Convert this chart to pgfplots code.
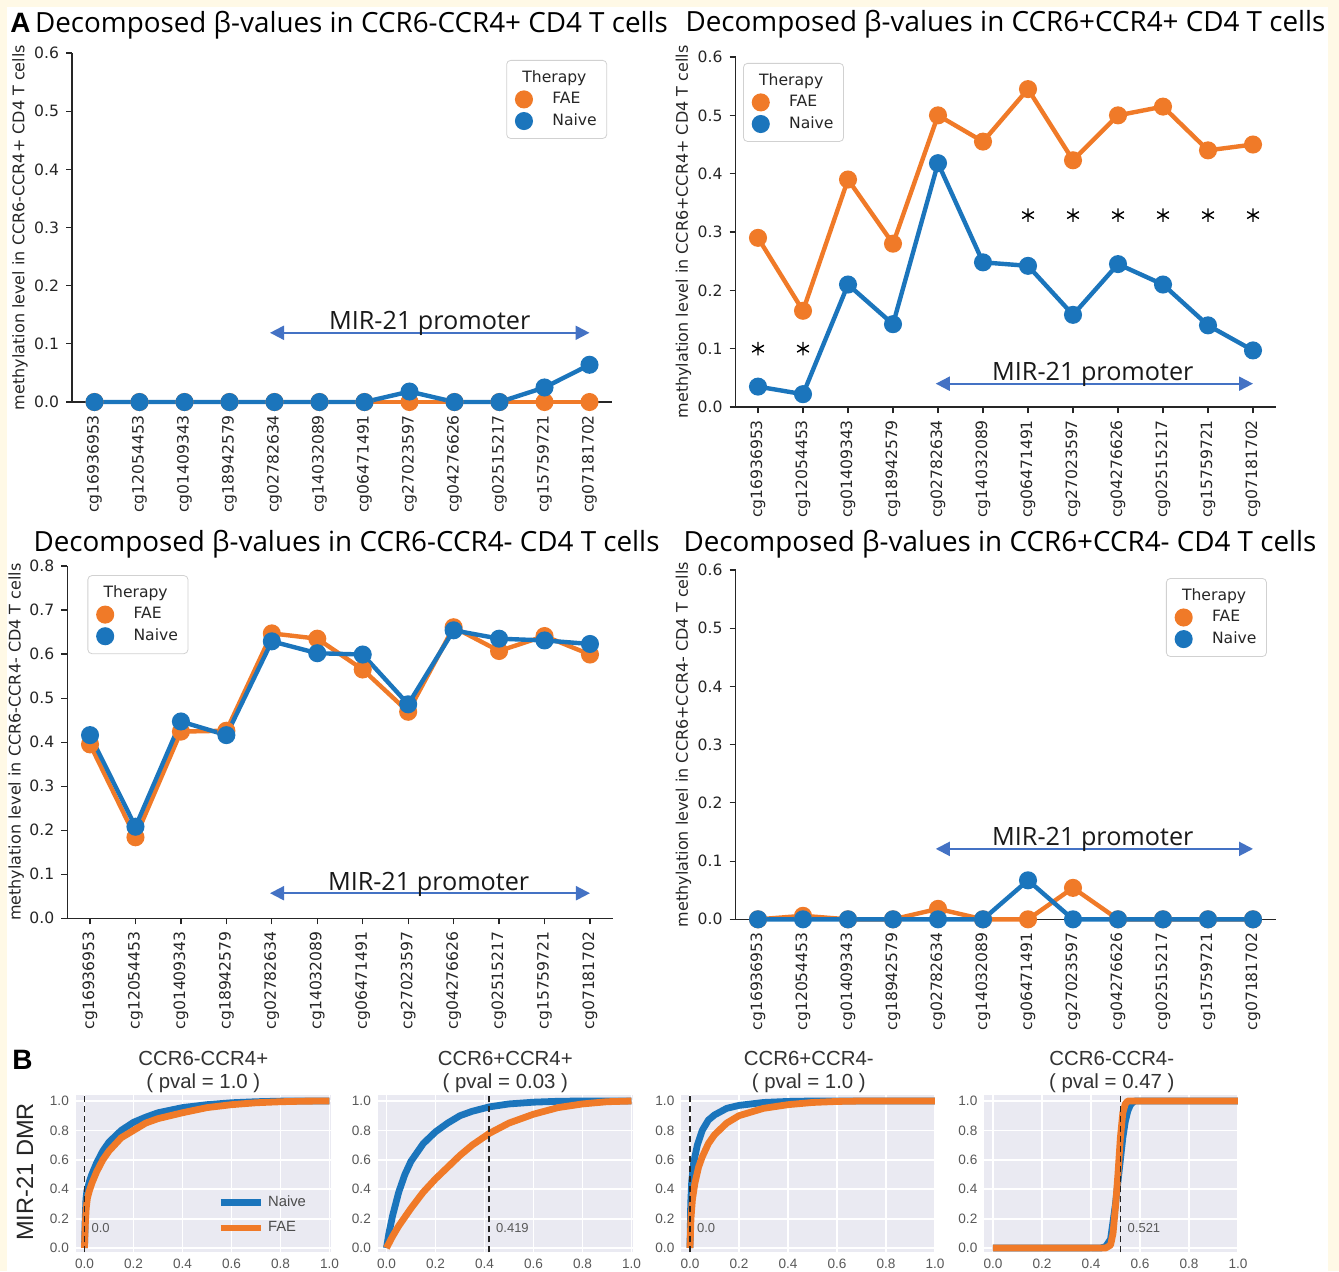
\documentclass[border=0pt]{standalone}
\usepackage{fontspec}
\usepackage{pgfplots}
\pgfplotsset{compat=1.18}
\usetikzlibrary{arrows.meta}
\setmainfont{DejaVu Sans}
\newfontfamily\osans{Open Sans}
\newfontfamily\lsans{Liberation Sans}
\definecolor{cfae}{RGB}{240,122,40}
\definecolor{cnaive}{RGB}{27,117,188}
\definecolor{cream}{RGB}{255,249,230}
\definecolor{arrowblue}{RGB}{68,114,196}
\definecolor{sbbg}{RGB}{234,234,242}

\tikzset{
  mirarrow/.style={arrowblue, line width=1pt, {Triangle[length=7pt,width=7pt]}-{Triangle[length=7pt,width=7pt]}},
  mirtext/.style={font=\osans\fontsize{12.6}{14}\selectfont, anchor=base, yshift=1.5pt, text=black!90},
  dlab/.style={font=\lsans\fontsize{6.5}{7}\selectfont, text=black!65, anchor=west},
  atitle/.style={anchor=base, font=\osans\fontsize{13.9}{16}\selectfont, inner sep=0pt},
}
\pgfplotsset{
  apanel/.style={
    scale only axis, width=270pt, anchor=south west,
    xmin=-0.5, xmax=11.5, ymin=0,
    axis x line*=bottom, axis y line*=left,
    axis line style={-, line width=0.7pt, black!85},
    xtick={0,1,2,3,4,5,6,7,8,9,10,11},
    xticklabels={cg16936953,cg12054453,cg01409343,cg18942579,cg02782634,cg14032089,cg06471491,cg27023597,cg04276626,cg02515217,cg15759721,cg07181702},
    tick align=outside, major tick length=3pt,
    tick style={black!85, line width=0.6pt},
    x tick label style={rotate=90, anchor=east, font=\fontsize{7.8}{9}\selectfont, text=black!85},
    y tick label style={font=\fontsize{7.8}{9}\selectfont, text=black!85},
    /pgf/number format/assume math mode=true,
    yticklabel={\pgfmathprintnumber[fixed,fixed zerofill,precision=1]{\tick}},
    ylabel style={font=\fontsize{8}{9}\selectfont, anchor=center, text=black!85},
    clip=false,
    legend style={draw=black!18, rounded corners=2pt, font=\fontsize{7.8}{9}\selectfont, row sep=-0.5pt, inner sep=3pt, cells={anchor=west}, text=black!85},
  },
  dat/.style={line width=2.2pt, mark=*, mark size=3.4pt, mark options={draw=none}},
  fae/.style={dat, cfae, legend image code/.code={\path (0cm,0cm) (0.55cm,0cm); \fill[cfae] (0.16cm,0cm) circle (3.4pt);}},
  naive/.style={dat, cnaive, legend image code/.code={\path (0cm,0cm) (0.55cm,0cm); \fill[cnaive] (0.16cm,0cm) circle (3.4pt);}},
  bpanel/.style={
    scale only axis, width=127.4pt, height=78.65pt, anchor=south west,
    xmin=-0.035, xmax=1.005, ymin=-0.03, ymax=1.04,
    axis background/.style={fill=sbbg},
    grid=major, major grid style={white, line width=0.9pt},
    axis line style={draw=none}, major tick length=0pt, tick style={draw=none},
    xtick={0,0.2,0.4,0.6,0.8,1}, ytick={0,0.2,0.4,0.6,0.8,1},
    tick label style={font=\lsans\fontsize{6.8}{7.5}\selectfont, text=black!65},
    /pgf/number format/assume math mode=true,
    xticklabel={\pgfmathprintnumber[fixed,fixed zerofill,precision=1]{\tick}},
    yticklabel={\pgfmathprintnumber[fixed,fixed zerofill,precision=1]{\tick}},
    title style={font=\lsans\fontsize{10.2}{11.5}\selectfont, text=black!80, align=center, yshift=-8.5pt},
  },
  bn/.style={cnaive, line width=3.4pt, line join=round},
  bf/.style={cfae, line width=3.4pt, line join=round},
  dline/.style={black!85, line width=0.8pt, dash pattern=on 3pt off 2pt, forget plot},
}

\begin{document}
\begin{tikzpicture}
\path[use as bounding box] (0,0) rectangle (669.5pt,-635.5pt);
\fill[cream] (0,0) rectangle (669.5pt,-635.5pt);
\fill[white] (3.5pt,-3.5pt) rectangle (664pt,-635.5pt);

% ---------- A1 ----------
\begin{axis}[apanel, at={(36pt,-201pt)}, height=174.5pt, ymax=0.6,
  ytick={0,0.1,0.2,0.3,0.4,0.5,0.6},
  ylabel={methylation level in CCR6-CCR4+ CD4 T cells},
  ylabel style={at={(axis description cs:-0.0963,0.5)}},
  legend style={at={(axis description cs:0.991,0.98)}, anchor=north east}]
\addlegendimage{empty legend}\addlegendentry{\hspace*{-15pt}Therapy}
\addplot[fae] coordinates {(0,0) (1,0) (2,0) (3,0) (4,0) (5,0) (6,0) (7,0) (8,0) (9,0) (10,0) (11,0)};
\addlegendentry{FAE}
\addplot[naive] coordinates {(0,0) (1,0) (2,0) (3,0) (4,0) (5,0) (6,0) (7,0.018) (8,0) (9,0) (10,0.025) (11,0.064)};
\addlegendentry{Naive}
\draw[mirarrow] (axis cs:3.9,0.119) -- (axis cs:11,0.119);
\node[mirtext] at (axis cs:7.45,0.119) {MIR-21 promoter};
\end{axis}

% ---------- A2 ----------
\begin{axis}[apanel, at={(367.75pt,-203.5pt)}, height=175pt, ymax=0.6,
  ytick={0,0.1,0.2,0.3,0.4,0.5,0.6},
  ylabel={methylation level in CCR6+CCR4+ CD4 T cells},
  ylabel style={at={(axis description cs:-0.0963,0.5)}},
  legend style={at={(axis description cs:0.014,0.983)}, anchor=north west}]
\addlegendimage{empty legend}\addlegendentry{\hspace*{-15pt}Therapy}
\addplot[fae] coordinates {(0,0.29) (1,0.165) (2,0.39) (3,0.28) (4,0.50) (5,0.455) (6,0.545) (7,0.423) (8,0.50) (9,0.515) (10,0.44) (11,0.45)};
\addlegendentry{FAE}
\addplot[naive] coordinates {(0,0.035) (1,0.022) (2,0.21) (3,0.142) (4,0.418) (5,0.248) (6,0.242) (7,0.158) (8,0.245) (9,0.21) (10,0.14) (11,0.097)};
\addlegendentry{Naive}
\addplot[only marks, mark=asterisk, mark size=3.4pt, black, line width=0.7pt, forget plot] coordinates {(0,0.1) (1,0.1) (6,0.329) (7,0.329) (8,0.329) (9,0.329) (10,0.329) (11,0.329)};
\draw[mirarrow] (axis cs:3.95,0.04) -- (axis cs:11,0.04);
\node[mirtext] at (axis cs:7.44,0.04) {MIR-21 promoter};
\end{axis}

% ---------- A3 ----------
\begin{axis}[apanel, at={(33.65pt,-459.15pt)}, width=272.7pt, height=176.15pt, ymax=0.8,
  ytick={0,0.1,0.2,0.3,0.4,0.5,0.6,0.7,0.8},
  ylabel={methylation level in CCR6-CCR4- CD4 T cells},
  ylabel style={at={(axis description cs:-0.0936,0.5)}},
  legend style={at={(axis description cs:0.037,0.974)}, anchor=north west}]
\addlegendimage{empty legend}\addlegendentry{\hspace*{-15pt}Therapy}
\addplot[fae] coordinates {(0,0.395) (1,0.184) (2,0.424) (3,0.426) (4,0.647) (5,0.635) (6,0.565) (7,0.469) (8,0.661) (9,0.607) (10,0.641) (11,0.599)};
\addlegendentry{FAE}
\addplot[naive] coordinates {(0,0.416) (1,0.208) (2,0.447) (3,0.416) (4,0.629) (5,0.602) (6,0.599) (7,0.486) (8,0.654) (9,0.635) (10,0.631) (11,0.623)};
\addlegendentry{Naive}
\draw[mirarrow] (axis cs:3.96,0.057) -- (axis cs:11,0.057);
\node[mirtext] at (axis cs:7.45,0.057) {MIR-21 promoter};
\end{axis}

% ---------- A4 ----------
\begin{axis}[apanel, at={(367.75pt,-459.65pt)}, height=174.65pt, ymax=0.6,
  ytick={0,0.1,0.2,0.3,0.4,0.5,0.6},
  ylabel={methylation level in CCR6+CCR4- CD4 T cells},
  ylabel style={at={(axis description cs:-0.0963,0.5)}},
  legend style={at={(axis description cs:0.984,0.977)}, anchor=north east}]
\addlegendimage{empty legend}\addlegendentry{\hspace*{-15pt}Therapy}
\addplot[fae] coordinates {(0,0) (1,0.006) (2,0) (3,0) (4,0.018) (5,0) (6,0) (7,0.054) (8,0) (9,0) (10,0) (11,0)};
\addlegendentry{FAE}
\addplot[naive] coordinates {(0,0) (1,0) (2,0) (3,0) (4,0) (5,0) (6,0.067) (7,0) (8,0) (9,0) (10,0) (11,0)};
\addlegendentry{Naive}
\draw[mirarrow] (axis cs:3.95,0.121) -- (axis cs:11,0.121);
\node[mirtext] at (axis cs:7.44,0.121) {MIR-21 promoter};
\end{axis}

% ---------- titles A ----------
\node[anchor=base west, inner sep=0pt, font=\lsans\bfseries\fontsize{14}{16}\selectfont] at (5pt,-16.3pt) {A};
\node[atitle] at (175.75pt,-16.3pt) {Decomposed β-values in CCR6-CCR4+ CD4 T cells};
\node[atitle] at (502.75pt,-15.9pt) {Decomposed β-values in CCR6+CCR4+ CD4 T cells};
\node[atitle] at (173.25pt,-275.85pt) {Decomposed β-values in CCR6-CCR4- CD4 T cells};
\node[atitle] at (500pt,-275.85pt) {Decomposed β-values in CCR6+CCR4- CD4 T cells};

% ---------- B ----------
\node[anchor=base west, inner sep=0pt, font=\lsans\bfseries\fontsize{14}{16}\selectfont] at (6pt,-534.5pt) {B};
\node[rotate=90, font=\lsans\fontsize{11.8}{13}\selectfont, text=black!85] at (12.5pt,-586pt) {MIR-21 DMR};

\begin{axis}[bpanel, at={(37.95pt,-626.2pt)}, title={CCR6-CCR4+\\( pval = 1.0 )},
  legend style={at={(axis description cs:0.53,0.06)}, anchor=south west, draw=none, fill=none, font=\lsans\fontsize{7.4}{8}\selectfont, text=black!70, row sep=2pt, cells={anchor=west}},
  legend image code/.code={\draw[line width=3.4pt] (0cm,0cm) -- (20pt,0cm);}]
\addplot[bn] coordinates {(0,0) (0.003,0.2) (0.006,0.33) (0.01,0.39) (0.02,0.45) (0.03,0.5) (0.05,0.58) (0.075,0.66) (0.1,0.72) (0.15,0.8) (0.2,0.855) (0.25,0.89) (0.3,0.92) (0.4,0.955) (0.5,0.975) (0.6,0.988) (0.7,0.995) (0.8,0.999) (1.0,1.0)};
\addlegendentry{Naive}
\addplot[bf] coordinates {(0,0) (0.003,0.15) (0.007,0.27) (0.012,0.34) (0.02,0.39) (0.03,0.44) (0.05,0.52) (0.075,0.6) (0.1,0.66) (0.15,0.75) (0.2,0.8) (0.25,0.85) (0.3,0.88) (0.4,0.92) (0.5,0.955) (0.6,0.975) (0.7,0.988) (0.8,0.995) (0.9,0.999) (1.0,1.0)};
\addlegendentry{FAE}
\addplot[dline] coordinates {(0,-0.03) (0,1.04)};
\node[dlab] at (axis cs:0.0,0.136) {0.0};
\end{axis}

\begin{axis}[bpanel, at={(188.95pt,-626.2pt)}, title={CCR6+CCR4+\\( pval = 0.03 )}]
\addplot[bn] coordinates {(0,0) (0.01,0.1) (0.025,0.22) (0.05,0.38) (0.075,0.5) (0.1,0.59) (0.15,0.71) (0.2,0.79) (0.25,0.85) (0.3,0.9) (0.35,0.93) (0.42,0.96) (0.5,0.98) (0.6,0.992) (0.7,0.998) (0.8,1.0) (1,1)};
\addplot[bf] coordinates {(0,0) (0.025,0.08) (0.05,0.15) (0.1,0.27) (0.15,0.38) (0.2,0.47) (0.25,0.55) (0.3,0.63) (0.35,0.7) (0.42,0.78) (0.5,0.85) (0.6,0.91) (0.7,0.955) (0.8,0.98) (0.9,0.995) (1,1)};
\addplot[dline] coordinates {(0.419,-0.03) (0.419,1.04)};
\node[dlab] at (axis cs:0.419,0.136) {0.419};
\end{axis}

\begin{axis}[bpanel, at={(340.7pt,-626.2pt)}, title={CCR6+CCR4-\\( pval = 1.0 )}]
\addplot[bn] coordinates {(0,0) (0.003,0.3) (0.007,0.45) (0.015,0.58) (0.03,0.7) (0.05,0.8) (0.075,0.87) (0.1,0.905) (0.15,0.95) (0.2,0.97) (0.3,0.99) (0.4,0.997) (0.5,1.0) (1,1)};
\addplot[bf] coordinates {(0,0) (0.004,0.2) (0.01,0.33) (0.02,0.44) (0.035,0.55) (0.05,0.62) (0.075,0.71) (0.1,0.77) (0.15,0.85) (0.2,0.9) (0.3,0.95) (0.4,0.975) (0.5,0.99) (0.6,0.997) (0.7,1.0) (1,1)};
\addplot[dline] coordinates {(0,-0.03) (0,1.04)};
\node[dlab] at (axis cs:0.0,0.136) {0.0};
\end{axis}

\begin{axis}[bpanel, at={(492.2pt,-626.2pt)}, title={CCR6-CCR4-\\( pval = 0.47 )}]
\addplot[bn] coordinates {(0,0) (0.44,0.0) (0.46,0.01) (0.48,0.06) (0.5,0.3) (0.51,0.45) (0.52,0.6) (0.53,0.75) (0.54,0.86) (0.55,0.93) (0.56,0.97) (0.57,0.99) (0.58,1.0) (1,1)};
\addplot[bf] coordinates {(0,0) (0.46,0.0) (0.48,0.02) (0.49,0.1) (0.5,0.28) (0.51,0.5) (0.52,0.75) (0.53,0.92) (0.54,0.98) (0.55,1.0) (1,1)};
\addplot[dline] coordinates {(0.521,-0.03) (0.521,1.04)};
\node[dlab] at (axis cs:0.521,0.136) {0.521};
\end{axis}
\end{tikzpicture}
\end{document}
